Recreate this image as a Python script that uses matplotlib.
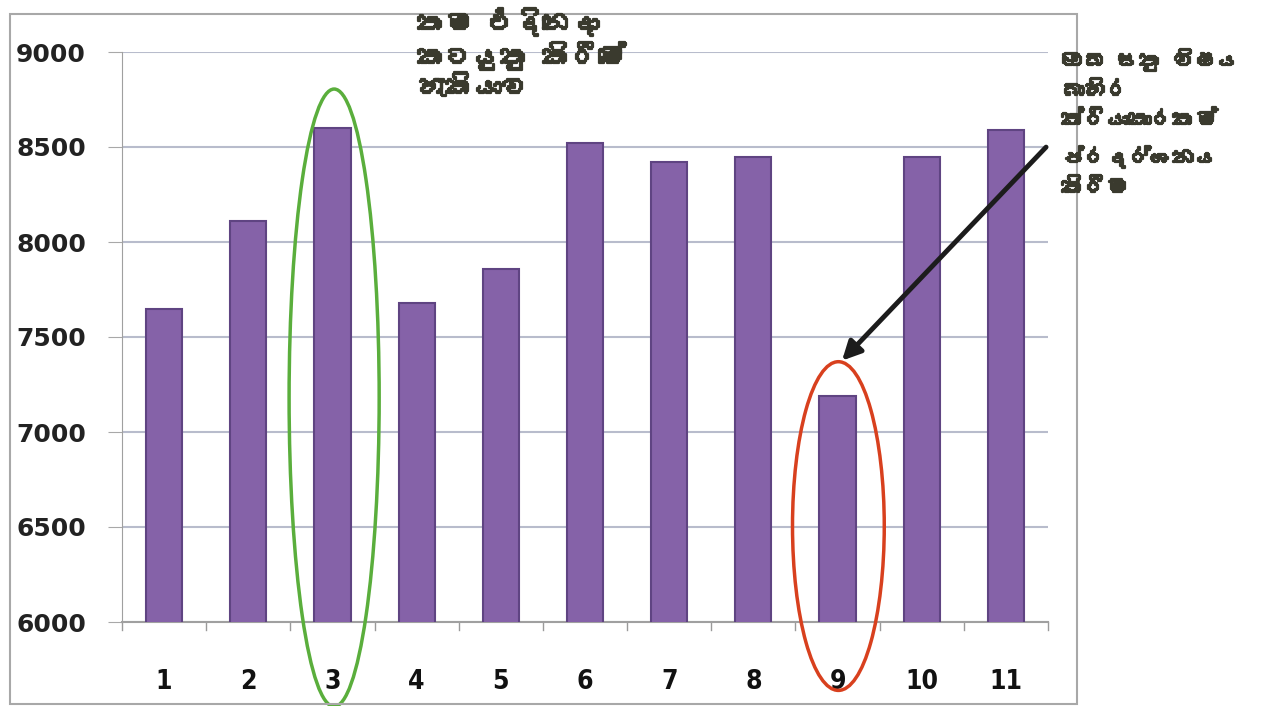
import matplotlib
matplotlib.use("Agg")
import matplotlib.pyplot as plt
import matplotlib.patheffects as pe
from matplotlib import font_manager
from matplotlib.ft2font import FT2Font
from matplotlib.patches import Ellipse, Rectangle, FancyArrowPatch

# Data
categories = ["1", "2", "3", "4", "5", "6", "7", "8", "9", "10", "11"]
scores = [7650, 8110, 8600, 7680, 7860, 8520, 8420, 8450, 7190, 8450, 8590]
y_ticks = [6000, 6500, 7000, 7500, 8000, 8500, 9000]
note_left = "තම එදිනෙදා\nකටයුතු කිරීමේ\nහැකියාව"
note_right = "ඔබ සතු විෂය\nබාහිර\nක්රියාකාරකම්\nප්රදර්ශනය\nකිරීම"


def find_sinhala_family():
    for f in font_manager.fontManager.ttflist:
        try:
            if ord("ක") in FT2Font(f.fname).get_charmap():
                return f.name
        except Exception:
            continue
    return None


sinhala = find_sinhala_family()
text_families = ([sinhala] if sinhala else []) + ["DejaVu Sans"]

fig = plt.figure(figsize=(12.69, 7.06), dpi=100)
ax = fig.add_axes([122 / 1269, 1 - 622 / 706, 926 / 1269, 570 / 706])

x = list(range(1, len(categories) + 1))
ax.bar(x, scores, width=0.43, color="#8562a8", edgecolor="#5f4482",
       linewidth=1.5, zorder=3)

ax.set_xlim(0.5, 11.5)
ax.set_ylim(6000, 9000)
ax.set_yticks(y_ticks)
ax.set_yticklabels([str(v) for v in y_ticks], fontsize=18, fontweight="bold",
                   color="#222222")
ax.set_xticks(x)
ax.set_xticklabels(categories, fontsize=19, fontweight="bold", color="#111111",
                   fontstretch="condensed")
ax.tick_params(axis="x", length=0, pad=34)
ax.tick_params(axis="y", length=10, color="#a8a8a8", pad=16)
# category separator ticks on the x axis
for b in [i + 0.5 for i in range(0, 12)]:
    ax.plot([b, b], [6000, 5960], color="#9a9a9a", lw=1, clip_on=False, zorder=2)

ax.grid(axis="y", color="#b8bccc", lw=1.5, zorder=0)
for side in ["top", "right"]:
    ax.spines[side].set_visible(False)
ax.spines["left"].set_color("#a0a0a0")
ax.spines["bottom"].set_color("#a0a0a0")
ax.spines["bottom"].set_linewidth(1.5)

# highlight ellipses
ax.add_patch(Ellipse((3.02, 7180), 1.07, 3250, fill=False, ec="#5aae3c", lw=2.5,
                     clip_on=False, zorder=4))
ax.add_patch(Ellipse((9.01, 6505), 1.09, 1730, fill=False, ec="#d8401e", lw=2.5,
                     clip_on=False, zorder=4))

# arrow pointing at category 9
ax.add_patch(FancyArrowPatch((11.5, 8510), (9.03, 7365), arrowstyle="-|>",
                             mutation_scale=28, lw=3.5, color="#1c1c1c",
                             clip_on=False, zorder=5))

bold = [pe.withStroke(linewidth=1.6, foreground="#3a3a2e")]
fig.text(418 / 1269, 1 - 8 / 706, note_left, family=text_families, fontsize=20,
         fontweight="bold", color="#3a3a2e", va="top", ha="left",
         linespacing=1.2, path_effects=bold)
fig.text(1062 / 1269, 1 - 48 / 706, note_right, family=text_families,
         fontsize=16, fontweight="bold", color="#3a3a2e", va="top", ha="left",
         linespacing=1.75, path_effects=bold)

# outer frame
fig.add_artist(Rectangle((10 / 1269, 2 / 706), 1067 / 1269, 690 / 706,
                         transform=fig.transFigure, fill=False, ec="#a8a8a8",
                         lw=1.5))

fig.savefig("out.png", dpi=100)
